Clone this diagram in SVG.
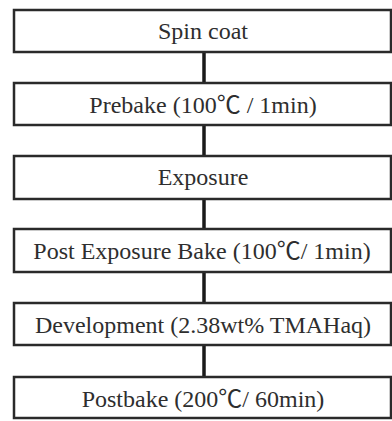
<svg xmlns="http://www.w3.org/2000/svg" width="392" height="421" viewBox="0 0 392 421">
<style>
.box{fill:#fff;stroke:#2a2a2a;stroke-width:2.5}
.lbl{font-family:"Liberation Serif","Times New Roman","Noto Sans CJK SC",serif;font-size:24px;fill:#2e2e2e;text-anchor:middle}
.con{stroke:#1a1a1a;stroke-width:3.5;fill:none}
</style>
<rect width="392" height="421" fill="#fff"/>
<g id="connectors">
<line class="con" x1="204" y1="52" x2="204" y2="83"/>
<line class="con" x1="204" y1="125" x2="204" y2="156"/>
<line class="con" x1="204" y1="199" x2="204" y2="229"/>
<line class="con" x1="204" y1="272" x2="204" y2="303"/>
<line class="con" x1="204" y1="345" x2="204" y2="377"/>
</g>
<g id="spin-coat"><rect class="box" x="14" y="10" width="377" height="42"/><text class="lbl" x="203" y="39">Spin coat</text></g>
<g id="prebake"><rect class="box" x="14" y="83" width="377" height="42"/><text class="lbl" x="203" y="113">Prebake (100℃ / 1min)</text></g>
<g id="exposure"><rect class="box" x="14" y="156" width="377" height="43"/><text class="lbl" x="203" y="185">Exposure</text></g>
<g id="peb"><rect class="box" x="14" y="229" width="377" height="43"/><text class="lbl" x="202" y="259">Post Exposure Bake (100℃/ 1min)</text></g>
<g id="development"><rect class="box" x="14" y="303" width="377" height="42"/><text class="lbl" x="203" y="333">Development (2.38wt% TMAHaq)</text></g>
<g id="postbake"><rect class="box" x="14" y="377" width="377" height="41"/><text class="lbl" x="203" y="407">Postbake (200℃/ 60min)</text></g>
</svg>
